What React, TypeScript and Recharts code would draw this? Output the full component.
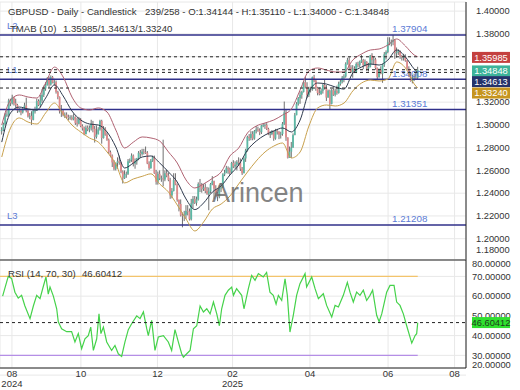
import React from 'react';
import { ComposedChart, Bar, Line, XAxis, YAxis, CartesianGrid, ReferenceLine } from 'recharts';

// daily GBPUSD candles (open = previous close)
const firstOpen = 1.2945;
const closes = [
  1.2955, 1.3005, 1.309, 1.309, 1.3215, 1.319, 1.324, 1.319, 1.3175, 1.3125,
  1.3125, 1.311, 1.314, 1.317, 1.3125, 1.3075, 1.308, 1.3045, 1.3125, 1.3125,
  1.321, 1.3175, 1.3215, 1.3265, 1.332, 1.335, 1.341, 1.3355, 1.342, 1.337,
  1.3375, 1.329, 1.3245, 1.312, 1.3125, 1.3085, 1.309, 1.307, 1.3065, 1.3065,
  1.305, 1.307, 1.3015, 1.301, 1.305, 1.299, 1.297, 1.292, 1.2975, 1.296,
  1.2975, 1.301, 1.2965, 1.2895, 1.2915, 1.296, 1.3035, 1.2885, 1.2965, 1.2915,
  1.287, 1.276, 1.273, 1.267, 1.2615, 1.2665, 1.268, 1.267, 1.259, 1.253,
  1.2565, 1.257, 1.268, 1.269, 1.273, 1.266, 1.268, 1.2705, 1.2755, 1.2745,
  1.2765, 1.276, 1.2755, 1.266, 1.262, 1.2685, 1.2715, 1.2575, 1.25, 1.257,
  1.253, 1.253, 1.252, 1.2575, 1.2555, 1.2515, 1.238, 1.242, 1.2515, 1.2475,
  1.234, 1.2305, 1.2205, 1.22, 1.221, 1.2245, 1.224, 1.217, 1.231, 1.235,
  1.2315, 1.2345, 1.248, 1.247, 1.2435, 1.245, 1.242, 1.2395, 1.2415, 1.248,
  1.2505, 1.244, 1.2405, 1.237, 1.245, 1.245, 1.2565, 1.258, 1.262, 1.261,
  1.258, 1.2665, 1.2635, 1.265, 1.2675, 1.267, 1.2615, 1.2575, 1.2705, 1.2775,
  1.2895, 1.2885, 1.292, 1.288, 1.2945, 1.296, 1.295, 1.2935, 1.2995, 1.3,
  1.3, 1.2965, 1.2915, 1.292, 1.2945, 1.288, 1.295, 1.294, 1.2915, 1.292,
  1.301, 1.311, 1.289, 1.271, 1.2765, 1.28, 1.291, 1.3085, 1.3185, 1.3235,
  1.3265, 1.329, 1.3375, 1.3335, 1.326, 1.332, 1.331, 1.342, 1.339, 1.3325,
  1.328, 1.327, 1.33, 1.335, 1.332, 1.324, 1.33, 1.3185, 1.3305, 1.3265,
  1.33, 1.328, 1.336, 1.338, 1.3415, 1.3425, 1.3535, 1.357, 1.3505, 1.3465,
  1.3495, 1.346, 1.3535, 1.3525, 1.3555, 1.357, 1.3525, 1.3555, 1.3495, 1.351,
  1.361, 1.357, 1.3575, 1.35, 1.342, 1.3485, 1.345, 1.353, 1.362, 1.364,
  1.3725, 1.3715, 1.373, 1.3745, 1.363, 1.364, 1.365, 1.3605, 1.3595, 1.3595,
  1.3565, 1.3495, 1.3425, 1.3385, 1.3415, 1.3415, 1.34144, 1.34848,
];
const highs = [
  1.298, 1.302, 1.3105, 1.313, 1.323, 1.323, 1.3265, 1.3245, 1.323, 1.3185,
  1.315, 1.3145, 1.315, 1.3195, 1.324, 1.313, 1.3105, 1.312, 1.3135, 1.316,
  1.323, 1.3225, 1.3265, 1.3315, 1.3345, 1.3375, 1.342, 1.3425, 1.3435, 1.343,
  1.3405, 1.339, 1.33, 1.325, 1.3175, 1.3135, 1.311, 1.311, 1.309, 1.3085,
  1.3085, 1.31, 1.3075, 1.306, 1.307, 1.306, 1.3005, 1.2985, 1.2995, 1.2995,
  1.2995, 1.3045, 1.3035, 1.299, 1.2995, 1.298, 1.3045, 1.3045, 1.299, 1.298,
  1.2935, 1.288, 1.2775, 1.274, 1.269, 1.267, 1.2715, 1.273, 1.2675, 1.26,
  1.26, 1.259, 1.27, 1.2705, 1.275, 1.274, 1.2705, 1.271, 1.277, 1.278,
  1.279, 1.279, 1.281, 1.277, 1.268, 1.27, 1.273, 1.273, 1.2605, 1.259,
  1.26, 1.2555, 1.287, 1.26, 1.2605, 1.258, 1.2535, 1.2445, 1.2575, 1.2575,
  1.2485, 1.2345, 1.2345, 1.223, 1.2245, 1.2295, 1.2295, 1.2265, 1.235, 1.2375,
  1.2375, 1.237, 1.2495, 1.2525, 1.249, 1.248, 1.2485, 1.2455, 1.245, 1.249,
  1.255, 1.251, 1.247, 1.241, 1.247, 1.249, 1.2575, 1.2605, 1.264, 1.2635,
  1.2625, 1.2675, 1.269, 1.268, 1.269, 1.2715, 1.2705, 1.263, 1.272, 1.279,
  1.2905, 1.292, 1.2945, 1.2945, 1.2955, 1.299, 1.2985, 1.297, 1.3, 1.3015,
  1.3015, 1.3015, 1.2975, 1.2945, 1.2955, 1.295, 1.2965, 1.2965, 1.2945, 1.294,
  1.3025, 1.3205, 1.3135, 1.289, 1.281, 1.285, 1.2925, 1.3105, 1.32, 1.3245,
  1.3295, 1.33, 1.3385, 1.3425, 1.3375, 1.3335, 1.3335, 1.3425, 1.344, 1.3395,
  1.3335, 1.333, 1.332, 1.336, 1.34, 1.335, 1.331, 1.331, 1.3315, 1.3335,
  1.332, 1.3345, 1.338, 1.34, 1.343, 1.3445, 1.355, 1.359, 1.3595, 1.3525,
  1.3525, 1.3515, 1.355, 1.3555, 1.3565, 1.3615, 1.358, 1.3575, 1.356, 1.3545,
  1.3615, 1.363, 1.36, 1.359, 1.3505, 1.3495, 1.3515, 1.3535, 1.364, 1.3655,
  1.377, 1.377, 1.375, 1.37904, 1.3755, 1.368, 1.3665, 1.3655, 1.3615, 1.3625,
  1.362, 1.357, 1.3515, 1.3465, 1.344, 1.345, 1.347, 1.3511,
];
const lows = [
  1.2915, 1.2945, 1.2995, 1.307, 1.308, 1.3165, 1.318, 1.317, 1.315, 1.3105,
  1.311, 1.3085, 1.31, 1.313, 1.311, 1.3065, 1.305, 1.3, 1.304, 1.31,
  1.3125, 1.3165, 1.3155, 1.3195, 1.3245, 1.33, 1.3345, 1.3325, 1.3345, 1.3365,
  1.3345, 1.3275, 1.3225, 1.31, 1.307, 1.3075, 1.306, 1.3055, 1.304, 1.3045,
  1.304, 1.304, 1.3, 1.2985, 1.3005, 1.298, 1.295, 1.291, 1.2915, 1.2945,
  1.2935, 1.295, 1.2935, 1.2845, 1.288, 1.2925, 1.295, 1.2835, 1.288, 1.2905,
  1.286, 1.2745, 1.2715, 1.263, 1.26, 1.26, 1.2615, 1.265, 1.2575, 1.2485,
  1.2525, 1.2535, 1.256, 1.2665, 1.2675, 1.2635, 1.2615, 1.265, 1.269, 1.2715,
  1.273, 1.274, 1.2745, 1.2655, 1.2605, 1.2615, 1.2675, 1.257, 1.2475, 1.2475,
  1.2515, 1.25, 1.246, 1.2505, 1.254, 1.2505, 1.235, 1.2355, 1.2415, 1.247,
  1.2325, 1.224, 1.2195, 1.21, 1.2155, 1.2175, 1.2205, 1.216, 1.216, 1.2265,
  1.2305, 1.229, 1.2335, 1.241, 1.2405, 1.242, 1.24, 1.2385, 1.225, 1.24,
  1.247, 1.235, 1.237, 1.233, 1.2355, 1.241, 1.2445, 1.255, 1.2575, 1.257,
  1.256, 1.2575, 1.262, 1.2615, 1.26, 1.264, 1.2595, 1.256, 1.2575, 1.2675,
  1.2765, 1.286, 1.2865, 1.2865, 1.287, 1.2925, 1.294, 1.291, 1.292, 1.298,
  1.2965, 1.2955, 1.291, 1.2885, 1.291, 1.286, 1.287, 1.2915, 1.2875, 1.288,
  1.2905, 1.3, 1.286, 1.2705, 1.271, 1.271, 1.28, 1.291, 1.3085, 1.317,
  1.3185, 1.323, 1.3285, 1.332, 1.3235, 1.3245, 1.3285, 1.33, 1.3375, 1.33,
  1.326, 1.326, 1.3265, 1.3275, 1.331, 1.321, 1.324, 1.314, 1.318, 1.3255,
  1.325, 1.3265, 1.3275, 1.3345, 1.3365, 1.3375, 1.3415, 1.353, 1.348, 1.3455,
  1.3415, 1.3455, 1.3455, 1.3505, 1.3505, 1.3545, 1.349, 1.3515, 1.3475, 1.347,
  1.3505, 1.3535, 1.3535, 1.3485, 1.34, 1.3415, 1.3445, 1.337, 1.351, 1.3575,
  1.363, 1.37, 1.369, 1.37, 1.358, 1.359, 1.3615, 1.358, 1.3565, 1.3565,
  1.3555, 1.348, 1.342, 1.338, 1.3365, 1.3385, 1.34, 1.34,
];

// TMAB (10) bands, sampled every 5 bars
const bandBars = [
  0, 5, 10, 15, 20, 25, 30, 35, 40, 45, 50, 55, 60, 65, 70, 75, 80, 85, 90, 95,
  100, 105, 110, 115, 120, 125, 130, 135, 140, 145, 150, 155, 160, 165, 170, 175,
  180, 185, 190, 195, 200, 205, 210, 215, 220, 225, 230, 235, 237,
];
const upperBand = [
  1.2999, 1.3219, 1.3263, 1.3245, 1.3236, 1.3368, 1.3508, 1.3421, 1.3245, 1.3149,
  1.3131, 1.3149, 1.3113, 1.2955, 1.2797, 1.2849, 1.2894, 1.2885, 1.2858, 1.2762,
  1.2665, 1.2516, 1.2446, 1.2481, 1.253, 1.2586, 1.2727, 1.2797, 1.2929, 1.299,
  1.3017, 1.3043, 1.3087, 1.314, 1.3307, 1.3474, 1.35, 1.3482, 1.3465, 1.3465,
  1.357, 1.3623, 1.3658, 1.3667, 1.3702, 1.3755, 1.3693, 1.3614, 1.35985,
];
const midBand = [
  1.2849, 1.3105, 1.3157, 1.314, 1.3131, 1.3236, 1.3351, 1.3254, 1.3122, 1.3043,
  1.3008, 1.2999, 1.2938, 1.2806, 1.2621, 1.2665, 1.2718, 1.2727, 1.2665, 1.2586,
  1.2498, 1.2349, 1.2256, 1.2314, 1.241, 1.2463, 1.256, 1.2647, 1.2779, 1.2858,
  1.2911, 1.2946, 1.2973, 1.2938, 1.3043, 1.3289, 1.3368, 1.3359, 1.3333, 1.3315,
  1.3456, 1.3508, 1.3535, 1.3526, 1.357, 1.3658, 1.3597, 1.3491, 1.34613,
];
const lowerBand = [
  1.2718, 1.2973, 1.3061, 1.3025, 1.3008, 1.3105, 1.3192, 1.3096, 1.2999, 1.2938,
  1.2885, 1.2849, 1.2762, 1.2656, 1.249, 1.2525, 1.2548, 1.257, 1.2481, 1.241,
  1.2296, 1.2173, 1.2068, 1.2147, 1.2261, 1.2305, 1.2375, 1.2481, 1.2586, 1.2683,
  1.2762, 1.2814, 1.2841, 1.2709, 1.2762, 1.299, 1.3149, 1.3175, 1.3166, 1.3192,
  1.3298, 1.3368, 1.3394, 1.3386, 1.3403, 1.3553, 1.35, 1.3359, 1.3324,
];

// RSI (14)
const rsiBars = [
  0.5, 3.7, 5.6, 7.5, 9.4, 11.3, 13.2, 16.1, 18, 19.9, 21.8, 23.7, 25.2, 26.5, 27.5,
  29.4, 31.3, 32.2, 34.1, 37, 39.8, 41.7, 43.6, 45.5, 47.4, 49.3, 50.7, 52.2, 54.1,
  55.4, 56.5, 57.9, 59.8, 62.6, 64.5, 66.4, 68.3, 70.2, 72.1, 74, 76.9, 78.8, 80.7,
  82.6, 83.5, 85.4, 87.3, 89.2, 92.1, 94.9, 96.8, 98.7, 100.6, 102.5, 103.5, 105.4,
  107.3, 109.2, 111.1, 113, 114.9, 116.8, 118.7, 120.6, 122.5, 124, 125.3, 127.2,
  129.1, 131, 132, 133.8, 136.7, 138, 140.5, 142.4, 144.3, 146.2, 149, 150.9, 152.8,
  154.7, 156.3, 157.6, 159.5, 161.4, 162.7, 164.2, 166.1, 168, 169.9, 172.8, 173.7,
  176.6, 178.5, 180.4, 183.2, 185.1, 188, 189.9, 191.8, 194.6, 196.9, 198.4, 200.3,
  202.2, 204.1, 206, 207.9, 209.8, 211.3, 213.6, 215, 216.5, 219.3, 221.2, 223.5,
  225, 226.9, 228.8, 230.7, 233.6, 235.5, 236.4, 237,
];
const rsiValues = [
  60, 70, 69, 62, 59, 60.4, 55, 48.6, 55, 60.4, 58.7, 65, 69.7, 61, 64.6,
  60, 53.6, 47, 43.5, 42, 42, 36.8, 41, 33.4, 38.4, 40, 44.3, 32.5, 38.4,
  51, 41, 44.3, 36.8, 32.5, 35, 30.8, 29.5, 36.8, 43, 46, 50, 48.6, 52,
  43.5, 40, 47.7, 32.5, 39.3, 40, 36.8, 32.5, 43, 36.8, 30.8, 29.1, 30.8,
  32.5, 43.5, 45, 55, 52, 53.6, 51, 57, 51, 45, 53.6, 60.4,
  63, 64.6, 60.4, 63.8, 60.4, 53.6, 63.8, 70.5, 68, 71.4, 69.7, 72, 62,
  60.4, 56, 60.4, 57.8, 68.8, 60.4, 41.8, 50.3, 60.4, 66.3, 71.4, 64.6,
  69.7, 63.8, 58.7, 61.2, 55.3, 49.4, 55.3, 54.5, 60.4, 67, 62, 57,
  62, 60.4, 63, 57.8, 60.4, 63, 50.3, 47, 51, 62, 65.4, 65.4,
  57, 55.3, 51, 45, 36.2, 40, 41, 46.60412,
];

const monthTicks = [5.8, 45.1, 88.7, 131.5, 175.6, 220.1, 258];
const monthLabels = ['08', '10', '12', '02', '04', '06', '08'];
const yearLabels = ['2024', '', '', '2025', '', '', ''];
const priceTicks = [1.18, 1.2, 1.22, 1.24, 1.26, 1.28, 1.3, 1.32, 1.34, 1.36, 1.38, 1.4];
const rsiTicks = [20, 30, 40, 50, 60, 70, 80];

const levelValues = [1.37904, 1.34008, 1.31351, 1.21208];
const levelTags = ['L2', 'L1', '', 'L3'];
const tmabLast = [1.35985, 1.34613, 1.3324];
const lastClose = 1.34848;
const rsiLast = 46.60412;

const xDomain = [-1, 264.5];
const priceDomain = [1.18128, 1.408];
const rsiDomain = [23.6, 78.3];

const rows: any[] = closes.map((c, i) => ({
  i,
  open: i === 0 ? firstOpen : closes[i - 1],
  close: c,
  high: highs[i],
  low: lows[i],
  range: [lows[i], highs[i]],
}));
bandBars.forEach((b, k) => {
  rows[b].u = upperBand[k];
  rows[b].m = midBand[k];
  rows[b].l = lowerBand[k];
});
const rsiData = rsiBars.map((b, k) => ({ i: b, v: rsiValues[k] }));

const FONT = '"Liberation Sans", Arial, sans-serif';

const Candle = (props: any) => {
  const { x, y, width, height, payload } = props;
  if (!payload) return null;
  const { open, close, high, low } = payload;
  const top = height >= 0 ? y : y + height;
  const h = Math.abs(height);
  const cx = x + width / 2;
  const k = h / (high - low || 1);
  const yo = top + (high - open) * k;
  const yc = top + (high - close) * k;
  const up = close >= open;
  return (
    <g>
      <line x1={cx} x2={cx} y1={top} y2={top + h} stroke="#4a4a4a" strokeWidth={0.8} />
      <rect
        x={cx - 0.9}
        y={Math.min(yo, yc)}
        width={1.8}
        height={Math.max(Math.abs(yc - yo), 0.8)}
        fill={up ? '#5cb8a5' : '#e08a8c'}
      />
    </g>
  );
};

const LevelLabel = (props: any) => {
  const { viewBox, text, tag } = props;
  if (!viewBox) return null;
  return (
    <g fontFamily={FONT}>
      <text x={viewBox.x + 392} y={viewBox.y - 2.5} fill="#5b7bd5" fontSize={9.8}>{text}</text>
      {tag ? <text x={viewBox.x + 7} y={viewBox.y - 6} fill="#5b7bd5" fontSize={9.5}>{tag}</text> : null}
    </g>
  );
};

const Badge = (props: any) => {
  const { viewBox, text, color, dy, ink } = props;
  if (!viewBox) return null;
  const left = viewBox.x + viewBox.width + 6;
  const yc = viewBox.y + dy;
  return (
    <g fontFamily={FONT}>
      <rect x={left} y={yc - 5.5} width={38} height={11} fill={color} />
      <text x={left + 19} y={yc + 3.4} textAnchor="middle" fill={ink || '#fff'} fontSize={9.3}>{text}</text>
    </g>
  );
};

const PriceTick = (props: any) => {
  const { x, y, payload } = props;
  const yy = Math.min(Math.max(y, 11), 250);
  return (
    <text x={x + 2} y={yy + 3.3} fill="#333" fontSize={9.3} fontFamily={FONT}>
      {Number(payload.value).toFixed(5)}
    </text>
  );
};

const RsiTick = (props: any) => {
  const { x, y, payload } = props;
  const yy = Math.min(Math.max(y, 5), 106);
  return (
    <text x={x} y={yy + 3.3} fill="#333" fontSize={9.3} fontFamily={FONT}>
      {Number(payload.value).toFixed(5)}
    </text>
  );
};

const MonthTick = (props: any) => {
  const { x, y, payload } = props;
  const k = monthTicks.indexOf(payload.value);
  return (
    <g fontFamily={FONT} fontSize={9.5} fill="#333">
      <text x={x} y={y + 9} textAnchor="middle">{monthLabels[k]}</text>
      {yearLabels[k] ? <text x={x} y={y + 19} textAnchor="middle">{yearLabels[k]}</text> : null}
    </g>
  );
};

const txt: React.CSSProperties = {
  position: 'absolute',
  fontSize: 9.6,
  lineHeight: '12px',
  color: '#333',
  whiteSpace: 'pre',
  fontFamily: FONT,
};

const layer: React.CSSProperties = { position: 'absolute', left: 0 };

export default function App() {
  return (
    <div style={{ position: 'absolute', left: 0, top: 0, width: 520, height: 390, background: '#fff', overflow: 'hidden', fontFamily: FONT }}>
      <div style={{ ...layer, top: 0 }}>
        <ComposedChart width={520} height={260} data={rows} margin={{ top: 2, right: 0, bottom: 0, left: 0 }}>
          <CartesianGrid stroke="#e8e8e8" />
          <XAxis dataKey="i" type="number" domain={xDomain} ticks={monthTicks} hide allowDataOverflow />
          <YAxis
            orientation="right"
            width={54}
            domain={priceDomain}
            ticks={priceTicks}
            tick={<PriceTick />}
            tickLine={false}
            tickSize={0}
            tickMargin={8}
            axisLine={{ stroke: '#222' }}
            allowDataOverflow
            interval={0}
          />
          {levelValues.map((v, k) => (
            <ReferenceLine
              key={'lv' + k}
              y={v}
              stroke="#30308a"
              strokeWidth={1.5}
              label={<LevelLabel text={v.toFixed(5)} tag={levelTags[k]} />}
            />
          ))}
          <Line dataKey="u" type="monotone" stroke="#b06272" strokeWidth={1} dot={false} connectNulls isAnimationActive={false} />
          <Line dataKey="m" type="monotone" stroke="#2e3a4e" strokeWidth={1} dot={false} connectNulls isAnimationActive={false} />
          <Line dataKey="l" type="monotone" stroke="#c8a04c" strokeWidth={1} dot={false} connectNulls isAnimationActive={false} />
          <Bar dataKey="range" barSize={2} shape={<Candle />} isAnimationActive={false} />
        </ComposedChart>
      </div>

      {/* dashed last-value lines and their badges, drawn above the axis labels */}
      <div style={{ ...layer, top: 0 }}>
        <ComposedChart width={520} height={260} data={rows} margin={{ top: 2, right: 54, bottom: 0, left: 0 }}>
          <XAxis dataKey="i" type="number" domain={xDomain} hide allowDataOverflow />
          <YAxis domain={priceDomain} hide allowDataOverflow />
          <ReferenceLine y={tmabLast[0]} stroke="#222" strokeDasharray="3 3" label={<Badge text={tmabLast[0].toFixed(5)} color="#c4403f" dy={0.6} />} />
          <ReferenceLine y={lastClose} stroke="#222" strokeDasharray="3 3" label={<Badge text={lastClose.toFixed(5)} color="#3db39a" dy={1.2} />} />
          <ReferenceLine y={tmabLast[1]} stroke="#222" strokeDasharray="3 3" label={<Badge text={tmabLast[1].toFixed(5)} color="#24336a" dy={9.2} />} />
          <ReferenceLine y={tmabLast[2]} stroke="#222" strokeDasharray="3 3" label={<Badge text={tmabLast[2].toFixed(5)} color="#c6951f" dy={5} />} />
        </ComposedChart>
      </div>

      <div style={{ ...layer, top: 259 }}>
        <ComposedChart width={520} height={131} data={rsiData} margin={{ top: 1, right: 0, bottom: 0, left: 0 }}>
          <CartesianGrid stroke="#e8e8e8" />
          <XAxis
            dataKey="i"
            type="number"
            domain={xDomain}
            ticks={monthTicks}
            tick={<MonthTick />}
            tickSize={0}
            tickMargin={0}
            height={22}
            axisLine={{ stroke: '#222' }}
            allowDataOverflow
            interval={0}
          />
          <YAxis
            orientation="right"
            width={54}
            domain={rsiDomain}
            ticks={rsiTicks}
            tick={<RsiTick />}
            tickLine={false}
            tickSize={0}
            tickMargin={6}
            axisLine={{ stroke: '#222' }}
            allowDataOverflow
            interval={0}
          />
          <ReferenceLine y={rsiDomain[1]} stroke="#222" />
          <ReferenceLine segment={[{ x: xDomain[0], y: 70 }, { x: 237, y: 70 }]} stroke="#f3c46c" strokeWidth={1.2} />
          <ReferenceLine segment={[{ x: xDomain[0], y: 30 }, { x: 237, y: 30 }]} stroke="#b58ee6" strokeWidth={1.2} />
          <Line dataKey="v" type="linear" stroke="#45d24a" strokeWidth={1.2} dot={false} isAnimationActive={false} />
        </ComposedChart>
      </div>

      <div style={{ ...layer, top: 259 }}>
        <ComposedChart width={520} height={131} data={rsiData} margin={{ top: 1, right: 54, bottom: 22, left: 0 }}>
          <XAxis dataKey="i" type="number" domain={xDomain} hide allowDataOverflow />
          <YAxis domain={rsiDomain} hide allowDataOverflow />
          <ReferenceLine
            y={rsiLast}
            stroke="#222"
            strokeDasharray="3 3"
            label={<Badge text={rsiLast.toFixed(5)} color="#2fe02f" ink="#1d3d1d" dy={0} />}
          />
        </ComposedChart>
      </div>

      <div style={{ ...txt, left: 8, top: 6 }}>GBPUSD - Daily - Candlestick</div>
      <div style={{ ...txt, left: 145, top: 6 }}>239/258 - O:1.34144 - H:1.35110 - L:1.34000 - C:1.34848</div>
      <div style={{ ...txt, left: 10, top: 23 }}>TMAB (10)</div>
      <div style={{ ...txt, left: 63, top: 23 }}>1.35985/1.34613/1.33240</div>
      <div style={{ ...txt, left: 8, top: 268 }}>RSI (14, 70, 30)</div>
      <div style={{ ...txt, left: 82, top: 268 }}>46.60412</div>
      <div style={{ ...txt, left: 212, top: 178, fontSize: 27, lineHeight: '30px', color: '#666', opacity: 0.8 }}>Arincen</div>
    </div>
  );
}
